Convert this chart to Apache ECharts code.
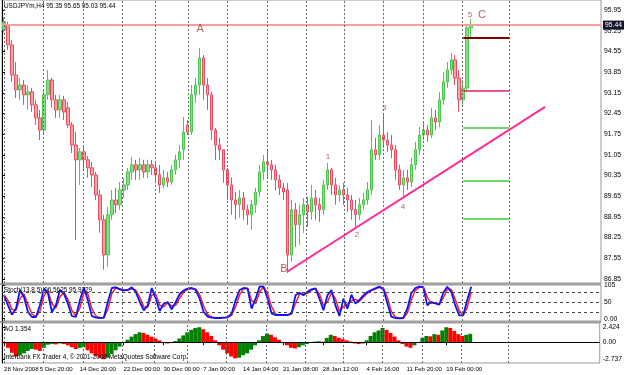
<!DOCTYPE html>
<html>
<head>
<meta charset="utf-8">
<script src="https://cdn.jsdelivr.net/npm/echarts@6/dist/echarts.min.js"></script>
<style>
  html, body { margin: 0; background: #fff; }
  #chart { width: 625px; height: 375px; }
</style>
</head>
<body>
<div id="chart"></div>
<script>
// USDJPYm H4, one row per bar: [open, close, low, high]
const ohlc = [
  [95.28, 95.55, 95.17, 95.71], [95.44, 94.77, 94.60, 95.55], [94.77, 93.75, 93.52, 94.94], [93.75, 93.25, 92.97, 94.19],
  [93.25, 93.41, 92.91, 93.65], [93.41, 93.08, 92.74, 93.58], [93.08, 93.18, 92.57, 93.41], [93.18, 92.74, 92.50, 93.31],
  [92.74, 92.30, 92.06, 92.91], [92.30, 91.89, 91.55, 92.57], [91.89, 93.08, 91.72, 93.25], [93.08, 93.58, 92.91, 93.92],
  [93.58, 92.91, 92.64, 93.65], [92.91, 92.57, 92.30, 93.08], [92.57, 92.91, 92.30, 93.08], [92.91, 92.50, 92.23, 93.04],
  [92.64, 92.06, 91.96, 92.84], [92.06, 91.38, 91.11, 92.16], [91.38, 90.88, 88.17, 91.82], [90.88, 91.15, 90.03, 91.28],
  [91.15, 90.88, 90.54, 91.32], [90.88, 90.61, 90.27, 91.01], [90.61, 90.37, 89.96, 90.81], [90.37, 89.69, 89.52, 90.47],
  [89.69, 88.85, 88.41, 89.86], [88.85, 87.66, 87.16, 89.02], [87.66, 89.02, 87.26, 89.29], [89.02, 89.52, 88.85, 89.86],
  [89.52, 89.36, 89.08, 89.93], [89.36, 89.86, 89.19, 90.13], [89.86, 90.03, 89.59, 90.27], [90.03, 90.47, 89.86, 90.61],
  [90.47, 90.71, 90.20, 90.98], [90.71, 90.54, 90.20, 90.88], [90.54, 90.71, 90.20, 90.94], [90.71, 90.47, 90.27, 90.88],
  [90.47, 90.71, 90.27, 90.88], [90.71, 90.61, 90.37, 90.88], [90.61, 90.37, 90.13, 90.81], [90.37, 90.03, 89.76, 90.71],
  [90.03, 90.27, 89.93, 90.54], [90.27, 90.13, 89.96, 90.47], [90.13, 90.54, 90.03, 90.71], [90.54, 90.88, 90.37, 91.05],
  [90.88, 91.15, 90.61, 91.38], [91.22, 91.82, 90.88, 92.33], [92.06, 91.82, 91.72, 92.23], [91.82, 93.08, 91.72, 93.41],
  [93.08, 93.41, 92.81, 93.65], [93.41, 94.33, 93.08, 94.67], [94.33, 93.41, 92.91, 94.43], [93.41, 93.08, 92.57, 93.65],
  [93.08, 91.89, 91.55, 93.18], [91.89, 91.38, 90.88, 91.96], [91.38, 91.22, 90.88, 91.62], [91.22, 90.54, 90.10, 91.22],
  [90.54, 90.03, 89.52, 90.61], [90.03, 89.52, 89.02, 90.27], [89.52, 89.36, 88.85, 89.79], [89.36, 89.59, 88.92, 89.86],
  [89.59, 89.19, 88.85, 89.79], [89.19, 89.02, 88.68, 89.36], [89.02, 89.36, 88.51, 89.52], [89.36, 89.79, 89.08, 89.93],
  [89.79, 90.47, 89.63, 90.71], [90.47, 90.81, 90.20, 91.05], [90.81, 90.71, 90.30, 91.22], [90.71, 90.54, 90.20, 90.88],
  [90.54, 90.20, 89.86, 90.71], [90.20, 89.93, 89.69, 90.37], [89.93, 89.79, 89.52, 90.10], [89.86, 87.66, 87.05, 90.10],
  [87.66, 89.19, 87.43, 89.52], [89.19, 88.68, 87.93, 89.42], [88.68, 89.02, 88.00, 89.36], [89.02, 89.36, 88.41, 89.59],
  [89.36, 89.12, 88.61, 89.63], [89.12, 89.59, 88.85, 90.03], [89.59, 89.36, 88.85, 89.86], [89.36, 89.19, 88.78, 89.59],
  [89.19, 90.03, 89.02, 90.20], [90.03, 90.54, 89.86, 90.78], [90.54, 90.03, 89.69, 90.61], [90.03, 89.69, 89.36, 90.27],
  [89.69, 89.86, 89.46, 90.03], [89.86, 89.69, 89.36, 90.10], [89.69, 89.52, 89.12, 89.93], [89.52, 89.19, 88.85, 89.69],
  [89.19, 89.02, 88.61, 89.52], [89.02, 89.36, 88.85, 89.59], [89.36, 89.52, 89.19, 89.76], [89.52, 89.86, 89.36, 90.13],
  [89.86, 91.22, 89.69, 92.23], [91.22, 91.05, 90.88, 91.62], [91.05, 91.72, 90.88, 92.06], [91.72, 91.55, 91.28, 92.40],
  [91.55, 91.38, 91.15, 91.82], [91.38, 91.22, 90.94, 91.72], [91.22, 90.54, 90.20, 91.38], [90.54, 90.03, 89.86, 90.71],
  [90.03, 90.27, 89.63, 90.54], [90.27, 90.13, 89.86, 90.54], [90.13, 90.71, 89.96, 90.94], [90.71, 91.22, 90.54, 91.49],
  [91.22, 91.72, 91.05, 91.99], [91.72, 91.89, 91.55, 92.16], [91.89, 91.72, 91.49, 92.06], [91.72, 92.30, 91.62, 92.64],
  [92.30, 92.16, 91.89, 92.57], [92.16, 92.91, 91.99, 93.18], [92.91, 93.52, 92.74, 93.85], [93.52, 93.92, 93.31, 94.19],
  [93.92, 94.26, 93.75, 94.50], [94.26, 93.65, 93.41, 94.43], [93.65, 92.91, 92.50, 93.92], [92.91, 93.31, 92.74, 93.58],
  [93.31, 95.35, 93.18, 95.42], [95.35, 95.44, 95.03, 95.65]
];

// Stochastic (13,8,5): main and signal
const stochMain = [
  70, 40, 12, 30, 86, 65, 20, 5, 5, 40,
  90, 77, 20, 40, 86, 75, 45, 8, 5, 55,
  93, 56, 8, 3, 2, 3, 50, 92, 94, 88,
  85, 86, 94, 80, 50, 25, 40, 92, 60, 23,
  45, 50, 28, 50, 74, 85, 90, 92, 86, 60,
  20, 6, 3, 2, 2, 3, 4, 15, 55, 86,
  92, 90, 30, 60, 96, 96, 60, 16, 11, 11,
  11, 11, 16, 70, 78, 70, 81, 88, 91, 60,
  25, 70, 86, 40, 8, 60, 30, 72, 45, 56,
  70, 80, 86, 91, 96, 88, 46, 6, 2, 1,
  2, 30, 76, 92, 96, 94, 40, 50, 46, 42,
  78, 96, 80, 40, 10, 10, 56, 96
];
const stochSignal = [
  72, 55, 28, 25, 60, 75, 42, 14, 6, 22,
  68, 84, 45, 32, 65, 80, 58, 25, 8, 32,
  78, 74, 30, 8, 3, 3, 28, 75, 92, 90,
  86, 86, 90, 86, 64, 36, 34, 70, 74, 40,
  36, 48, 38, 40, 62, 80, 88, 91, 89, 72,
  38, 12, 5, 3, 2, 3, 4, 10, 36, 72,
  90, 91, 55, 45, 80, 95, 76, 36, 14, 11,
  11, 11, 14, 46, 74, 74, 76, 85, 90, 74,
  40, 50, 78, 60, 22, 36, 44, 54, 58, 52,
  64, 76, 84, 89, 94, 92, 64, 22, 5, 2,
  2, 16, 56, 85, 94, 95, 64, 46, 48, 44,
  62, 88, 88, 58, 24, 10, 34, 80
];

// Awesome Oscillator
const aoValues = [
  -0.2, -0.9, -1.7, -2.3, -2.1, -1.8, -1.4, -1.1, -1.2, -1.4,
  -0.9, -0.4, -0.3, -0.35, -0.2, -0.3, -0.5, -0.8, -1.1, -0.9,
  -0.8, -1.3, -1.8, -2.2, -2.5, -2.737, -2.5, -1.9, -1.3, -0.7,
  -0.1, 0.4, 0.9, 1.3, 1.6, 1.5, 1.2, 0.9, 0.6, 0.3,
  0.0, -0.2, -0.1, 0.2, 0.6, 1.1, 1.6, 2.0, 2.3, 2.424,
  2.1, 1.6, 1.0, 0.3, -0.5, -1.2, -1.8, -2.3, -2.6, -2.5,
  -2.1, -1.8, -1.2, -0.5, 0.3, 1.0, 1.4, 1.2, 0.8, 0.4,
  0.0, -0.5, -0.9, -1.0, -0.8, -0.5, -0.3, -0.1, 0.1, 0.15,
  0.1, 0.7, 1.2, 1.0, 0.7, 0.5, 0.3, 0.1, -0.2, -0.3,
  -0.2, 0.3, 1.0, 1.6, 1.9, 2.3, 2.0, 1.5, 0.9, 0.3,
  -0.3, -0.7, -0.9, -0.5, -0.1, 0.7, 1.0, 0.95, 1.3, 1.2,
  1.9, 2.42, 2.3, 1.8, 1.3, 1.0, 1.2, 1.354
];

const barCount = 150;
const dateBars = [0, 9, 19, 30, 40, 50, 60, 70, 80, 91, 101, 111];
const dateLabels = ['28 Nov 2008', '5 Dec 20:00', '14 Dec 20:00', '22 Dec 00:00', '30 Dec 00:00', '7 Jan 00:00',
  '14 Jan 04:00', '21 Jan 08:00', '28 Jan 12:00', '4 Feb 16:00', '11 Feb 20:00', '19 Feb 00:00'];
// vertical grid separators, in bar units
const gridBars = [0.5, 10.3, 20.3, 30.1, 38.3, 46.6, 56.4, 66.4, 76.1, 85.6, 95.4, 105.4, 115.2, 127];

const priceTicks = [86.85, 87.55, 88.25, 88.95, 89.65, 90.35, 91.05, 91.75, 92.45, 93.15, 93.85, 94.55, 95.25, 95.95];
const stochTicks = [0, 20, 50, 80, 100];
const stochTickLabels = ['0.00', '20', '50', '80', '105'];
const stochLevels = [20, 50, 80];
const aoTicks = [-2.737, 0, 2.424];
const aoTickLabels = ['-2.737', '0.00', '2.424'];

const lastPrice = 95.44;
// trend line B -> through 2 and 4
const trendBars = [71.4, 136];
const trendPrices = [87.09, 92.67];
// target levels drawn as short segments on the right
const targetLevels = [95.00, 93.21, 91.96, 90.17, 88.88];
const targetSpan = [115.5, 127];
const targetColors = ['#800000', '#e0205a', '#3ccc3c', '#3ccc3c', '#3ccc3c'];
// wave labels
const waveNames = ['A', 'B', 'C', '5', '1', '2', '3', '4'];
const waveBars = [49.6, 70.6, 120.2, 117.2, 81.6, 88.9, 95.7, 100.4];
const wavePrices = [95.31, 87.19, 95.78, 95.78, 90.98, 88.34, 92.64, 89.29];

const FONT = 'Liberation Sans';
const SMALL = 6.4;
const categories = Array.from({ length: barCount }, (_, i) => String(i));

const chart = echarts.init(document.getElementById('chart'));

const gridLineStyle = { color: '#6a6a6a', type: [2, 2], width: 1 };
const gridLine = {
  silent: true,
  symbol: 'none',
  label: { show: false },
  lineStyle: gridLineStyle,
  data: gridBars.map((v) => ({ xAxis: v }))
};

function catAxis(gridIndex, showDates) {
  const pick = (i) => dateBars.includes(i);
  return {
    type: 'category',
    gridIndex: gridIndex,
    data: categories,
    boundaryGap: true,
    axisLine: { show: false },
    axisTick: showDates
      ? { show: true, alignWithLabel: true, interval: pick, length: 3, lineStyle: { color: '#000' } }
      : { show: false },
    axisLabel: showDates
      ? {
          interval: pick,
          showMinLabel: true,
          hideOverlap: false,
          formatter: (v) => dateLabels[dateBars.indexOf(Number(v))],
          align: 'left',
          margin: 3,
          fontSize: 6.1,
          fontFamily: FONT,
          color: '#000'
        }
      : { show: false },
    splitLine: { show: false }
  };
}

function overlayAxis(gridIndex) {
  return { type: 'value', gridIndex: gridIndex, min: 0, max: barCount, show: false };
}

function rightAxis(gridIndex, min, max, ticks, fmt) {
  return {
    type: 'value',
    gridIndex: gridIndex,
    position: 'right',
    min: min,
    max: max,
    axisLine: { show: true, lineStyle: { color: '#000' } },
    axisTick: { show: true, length: 3, customValues: ticks, lineStyle: { color: '#000' } },
    axisLabel: {
      customValues: ticks,
      formatter: fmt,
      hideOverlap: false,
      showMinLabel: true,
      showMaxLabel: true,
      fontSize: 6.8,
      fontFamily: FONT,
      color: '#000',
      margin: 3
    },
    splitLine: { show: false }
  };
}

const option = {
  animation: false,
  backgroundColor: '#fff',
  grid: [
    { left: 2, right: 24, top: 0, height: 283, show: true, borderColor: '#9a9a9a', borderWidth: 1 },
    { left: 2, right: 24, top: 285, height: 36, show: true, borderColor: '#9a9a9a', borderWidth: 1 },
    { left: 2, right: 24, top: 323, height: 40, show: true, borderColor: '#9a9a9a', borderWidth: 1 }
  ],
  xAxis: [catAxis(0, false), catAxis(1, false), catAxis(2, true), overlayAxis(0), overlayAxis(1), overlayAxis(2)],
  yAxis: [
    rightAxis(0, 86.71, 96.29, priceTicks, (v) => v.toFixed(2)),
    rightAxis(1, -7, 101, stochTicks, (v) => stochTickLabels[stochTicks.indexOf(v)]),
    rightAxis(2, -3.35, 3.1, aoTicks, (v) => aoTickLabels[aoTicks.indexOf(v)])
  ],
  series: [
    {
      type: 'candlestick',
      xAxisIndex: 0,
      yAxisIndex: 0,
      data: ohlc,
      barWidth: 3,
      itemStyle: {
        color: '#86de86',
        color0: '#f6a4a4',
        borderColor: '#4cc64c',
        borderColor0: '#ec4a62',
        borderWidth: 1
      },
      markLine: {
        silent: true,
        symbol: 'none',
        data: [{ yAxis: lastPrice }],
        lineStyle: { color: '#ff9c9c', width: 2, type: 'solid' },
        label: {
          position: 'end',
          formatter: lastPrice.toFixed(2),
          backgroundColor: '#15152c',
          color: '#fff',
          fontSize: 6.8,
          fontFamily: FONT,
          padding: [1, 2],
          distance: 2
        }
      }
    },
    {
      type: 'line',
      xAxisIndex: 3,
      yAxisIndex: 0,
      data: trendBars.map((b, i) => [b, trendPrices[i]]),
      symbol: 'none',
      lineStyle: { color: '#ff2a93', width: 2 },
      z: 5,
      markLine: {
        silent: true,
        symbol: 'none',
        label: { show: false },
        data: gridBars.map((v) => ({ xAxis: v, lineStyle: gridLineStyle })).concat(
          targetLevels.map((p, i) => [
            { coord: [targetSpan[0], p], lineStyle: { color: targetColors[i], width: i === 0 ? 2 : 1.5, type: 'solid' } },
            { coord: [targetSpan[1], p] }
          ])
        )
      }
    },
    {
      type: 'scatter',
      xAxisIndex: 3,
      yAxisIndex: 0,
      symbolSize: 1,
      itemStyle: { color: 'rgba(0,0,0,0)' },
      z: 6,
      data: waveNames.map((n, i) => ({
        name: n,
        value: [waveBars[i], wavePrices[i]],
        label: { fontSize: /[ABC]/.test(n) ? 11 : 8 }
      })),
      label: {
        show: true,
        position: 'inside',
        formatter: (p) => p.name,
        color: '#9b3c3c',
        fontFamily: FONT
      }
    },
    { type: 'line', xAxisIndex: 4, yAxisIndex: 1, data: [], markLine: gridLine },
    { type: 'line', xAxisIndex: 5, yAxisIndex: 2, data: [], markLine: gridLine },
    {
      type: 'line',
      xAxisIndex: 1,
      yAxisIndex: 1,
      data: stochSignal,
      symbol: 'none',
      lineStyle: { color: '#ff2020', width: 1.5 }
    },
    {
      type: 'line',
      xAxisIndex: 1,
      yAxisIndex: 1,
      data: stochMain,
      symbol: 'none',
      lineStyle: { color: '#1010ff', width: 1.8 },
      markLine: {
        silent: true,
        symbol: 'none',
        label: { show: false },
        lineStyle: { color: '#444', type: [3, 3], width: 1 },
        data: stochLevels.map((v) => ({ yAxis: v }))
      }
    },
    {
      type: 'bar',
      xAxisIndex: 2,
      yAxisIndex: 2,
      barCategoryGap: '0%',
      data: aoValues.map((v, i) => ({
        value: v,
        itemStyle: { color: i > 0 && v > aoValues[i - 1] ? '#008000' : '#ff0000' }
      })),
      markLine: {
        silent: true,
        symbol: 'none',
        label: { show: false },
        lineStyle: { color: '#000', type: 'solid', width: 1 },
        data: [{ yAxis: 0 }]
      }
    }
  ],
  graphic: [
    { type: 'rect', shape: { x: 0, y: 283, width: 601, height: 2 }, style: { fill: '#a0a0a0' }, silent: true },
    { type: 'rect', shape: { x: 0, y: 321, width: 601, height: 2 }, style: { fill: '#a0a0a0' }, silent: true },
    { type: 'text', left: 4, top: 3, z: 10, style: { text: 'USDJPYm,H4 95.35 95.65 95.03 95.44', fontSize: SMALL, fontFamily: FONT, fill: '#000' } },
    { type: 'text', left: 4, top: 287, z: 10, style: { text: 'Stoch(13,8,5) 96.5625 95.9729', fontSize: SMALL, fontFamily: FONT, fill: '#000' } },
    { type: 'text', left: 4, top: 326, z: 10, style: { text: 'AO 1.354', fontSize: SMALL, fontFamily: FONT, fill: '#000' } },
    { type: 'text', left: 4, top: 354, z: 10, style: { text: 'Interbank FX Trader 4, © 2001-2008 MetaQuotes Software Corp.', fontSize: SMALL, fontFamily: FONT, fill: '#000' } }
  ]
};

chart.setOption(option);
</script>
</body>
</html>
